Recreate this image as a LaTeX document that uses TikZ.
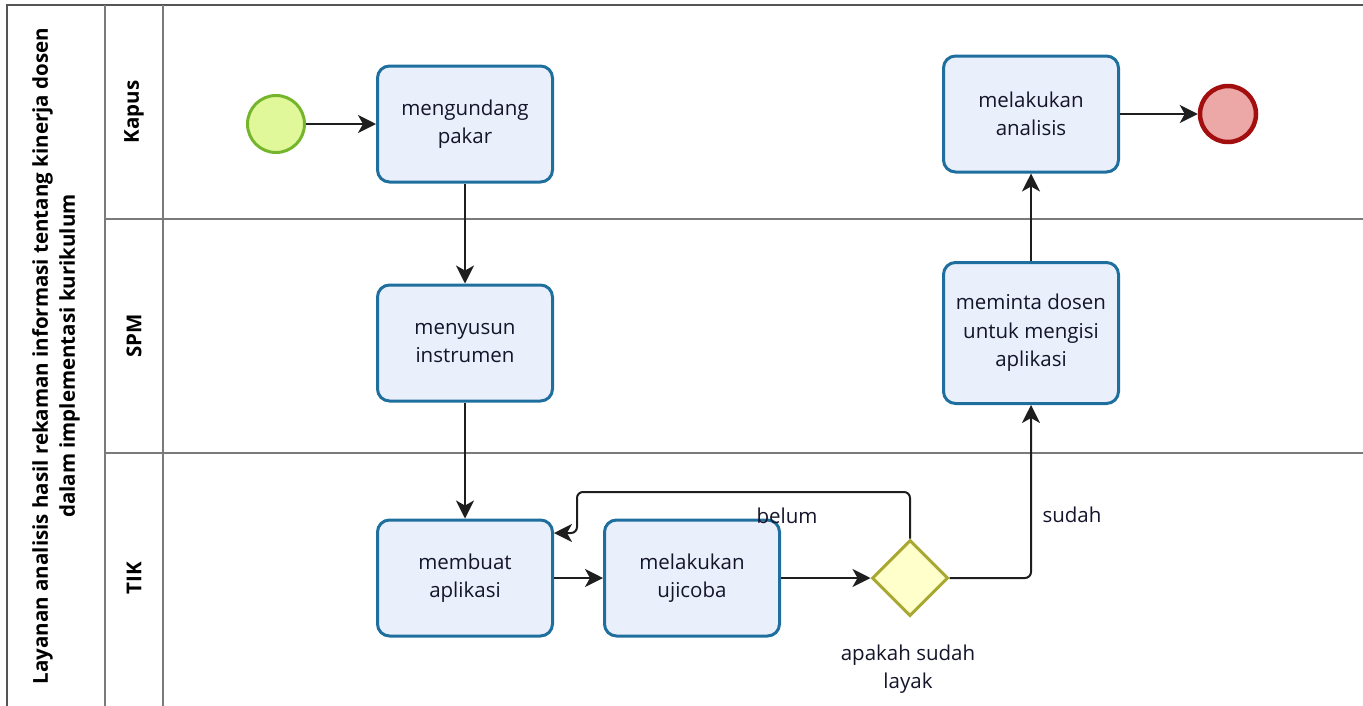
\documentclass[tikz,border=0pt]{standalone}
\usepackage{fontspec}
\setmainfont{Open Sans}
\usetikzlibrary{shapes.geometric,arrows.meta}

\definecolor{taskfill}{HTML}{EAEFFC}
\definecolor{taskline}{HTML}{1F6F9E}
\definecolor{startfill}{HTML}{E0F89A}
\definecolor{startline}{HTML}{74B52C}
\definecolor{endfill}{HTML}{ECA7A7}
\definecolor{endline}{HTML}{A30F0F}
\definecolor{gwfill}{HTML}{FFFFCC}
\definecolor{gwline}{HTML}{A8A832}
\definecolor{flowline}{HTML}{1E1E1E}
\definecolor{poolline}{HTML}{555555}
\definecolor{laneline}{HTML}{7A7A7A}
\definecolor{txt}{HTML}{14142A}

\begin{document}
\begin{tikzpicture}[
    x=1pt, y=-1pt,
    >={Stealth[length=18pt, width=18pt, inset=5pt]},
    every node/.style={font=\fontsize{20.5}{28.5}\selectfont, text=txt},
    task/.style={
        draw=taskline, line width=3pt, rounded corners=12pt,
        fill=taskfill, minimum width=175pt, minimum height=116pt,
        align=center
    },
    startev/.style={circle, draw=startline, line width=3pt, fill=startfill, minimum size=57pt},
    endev/.style={circle, draw=endline, line width=4.5pt, fill=endfill, minimum size=56pt},
    gateway/.style={
        diamond, aspect=1, draw=gwline, line width=3pt, fill=gwfill,
        minimum width=76pt, minimum height=76pt, inner sep=0pt
    },
    flow/.style={->, draw=flowline, line width=2pt},
    lbl/.style={align=center},
    lanelbl/.style={rotate=90, align=center, text=black,
        font=\bfseries\fontsize{20.5}{27}\selectfont}
]

\clip (0,0) rectangle (1363,705);

% ----------------------------------------------------------
% Pool und Lanes
% ----------------------------------------------------------
\draw[draw=poolline, line width=2pt] (7,5) rectangle (1380,720);
\draw[draw=laneline, line width=2pt] (105,5) -- (105,720);
\draw[draw=laneline, line width=2pt] (163,5) -- (163,720);
\draw[draw=laneline, line width=2pt] (105,219) -- (1380,219);
\draw[draw=laneline, line width=2pt] (105,453) -- (1380,453);

\node[lanelbl] (pool) at (56,356)
    {Layanan analisis hasil rekaman informasi tentang kinerja dosen\\
     dalam implementasi kurikulum};
\node[lanelbl] (kapus) at (134,112) {Kapus};
\node[lanelbl] (spm) at (134,336) {SPM};
\node[lanelbl] (tik) at (134,578) {TIK};

% ----------------------------------------------------------
% Ereignisse, Aufgaben und Gateway
% ----------------------------------------------------------
\node[startev] (start) at (276,124) {};
\node[task] (undang) at (465,124) {mengundang\\pakar};
\node[task] (susun) at (465,343) {menyusun\\instrumen};
\node[task] (buat) at (465,578) {membuat\\aplikasi};
\node[task] (uji) at (692,578) {melakukan\\ujicoba};
\node[gateway] (gw) at (910,578) {};
\node[task, minimum height=141pt] (minta) at (1031,333)
    {meminta dosen\\untuk mengisi\\aplikasi};
\node[task] (analisis) at (1031,114) {melakukan\\analisis};
\node[endev] (ende) at (1228,114) {};

\node[lbl] (gwtext) at (908,669) {apakah sudah\\layak};
\node[lbl] (belum) at (787,516) {belum};
\node[lbl] (sudah) at (1072,515) {sudah};

% ----------------------------------------------------------
% Sequenzfluesse
% ----------------------------------------------------------
\coordinate (loopturn) at (577,492);

\draw[flow] (start) -- (undang);
\draw[flow] (undang) -- (susun);
\draw[flow] (susun) -- (buat);
\draw[flow] (buat) -- (uji);
\draw[flow] (uji) -- (gw);
\draw[flow, rounded corners=6pt] (gw.north) |- (loopturn) |- ([yshift=45pt]buat.east);
\draw[flow, rounded corners=6pt] (gw.east) -| (minta.south);
\draw[flow] (minta) -- (analisis);
\draw[flow] (analisis) -- (ende);

\end{tikzpicture}
\end{document}
